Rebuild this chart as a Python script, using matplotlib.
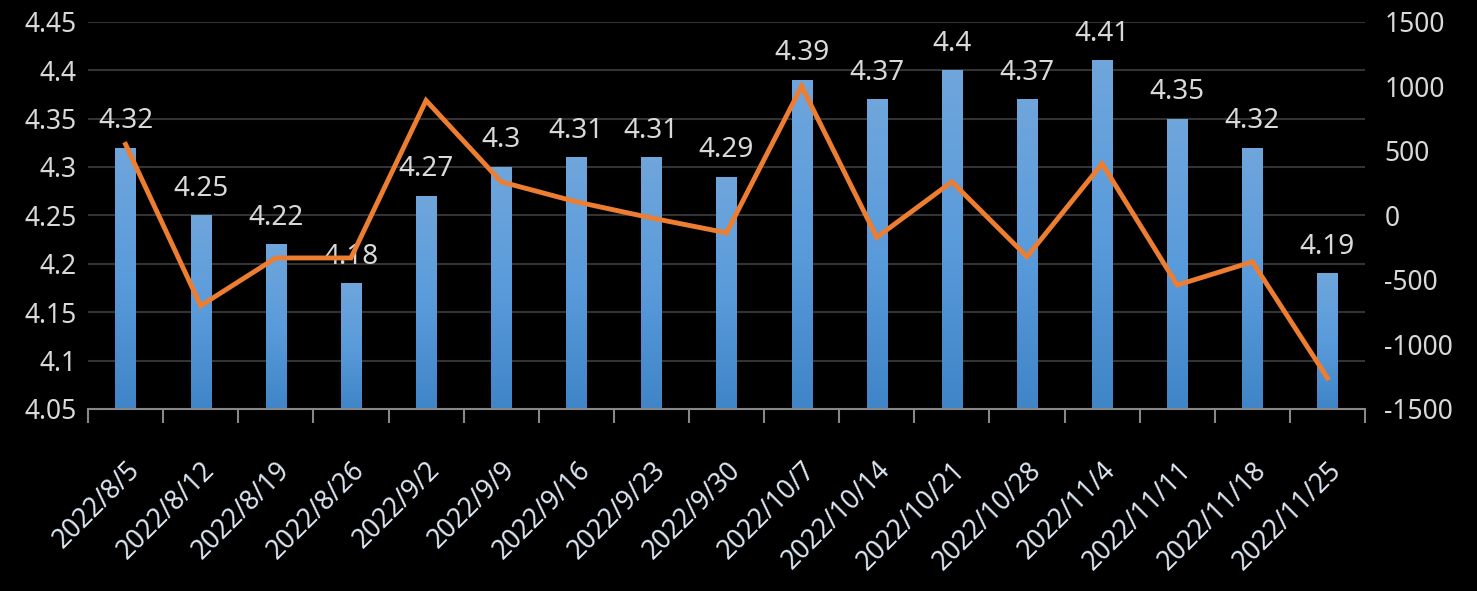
import matplotlib.pyplot as plt
import numpy as np
from matplotlib.colors import LinearSegmentedColormap

# données
dates = ["2022/8/5", "2022/8/12", "2022/8/19", "2022/8/26", "2022/9/2", "2022/9/9",
         "2022/9/16", "2022/9/23", "2022/9/30", "2022/10/7", "2022/10/14", "2022/10/21",
         "2022/10/28", "2022/11/4", "2022/11/11", "2022/11/18", "2022/11/25"]
bar_values = [4.32, 4.25, 4.22, 4.18, 4.27, 4.30, 4.31, 4.31, 4.29, 4.39, 4.37, 4.40,
              4.37, 4.41, 4.35, 4.32, 4.19]
bar_labels = ["4.32", "4.25", "4.22", "4.18", "4.27", "4.3", "4.31", "4.31", "4.29", "4.39",
              "4.37", "4.4", "4.37", "4.41", "4.35", "4.32", "4.19"]
line_values = [550, -700, -330, -330, 890, 260, 105, -20, -135, 1000, -170, 260,
               -320, 400, -540, -360, -1260]
left_ticks = [4.05, 4.1, 4.15, 4.2, 4.25, 4.3, 4.35, 4.4, 4.45]
left_tick_labels = ["4.05", "4.1", "4.15", "4.2", "4.25", "4.3", "4.35", "4.4", "4.45"]
right_ticks = [-1500, -1000, -500, 0, 500, 1000, 1500]

plt.rcParams['font.family'] = ['Noto Sans', 'DejaVu Sans']
plt.rcParams['axes.unicode_minus'] = False
text_color = "#D9D9D9"

fig = plt.figure(figsize=(14.77, 5.91), dpi=100, facecolor="black")
ax = fig.add_axes([0.0596, 0.308, 0.8646, 0.6552])
ax.set_facecolor("black")
x = np.arange(len(dates))

# barres avec dégradé (clair en haut, foncé en bas)
bars = ax.bar(x, bar_values, width=0.27, bottom=0, color="none", zorder=2)
grad = np.linspace(0, 1, 256).reshape(-1, 1)
cmap = LinearSegmentedColormap.from_list("blu", ["#3F85C7", "#5A9BDB", "#6FA6DB"])
for b in bars:
    x0 = b.get_x()
    w = b.get_width()
    im = ax.imshow(grad, extent=(x0, x0 + w, 4.05, b.get_height()), aspect="auto",
                   cmap=cmap, zorder=2, origin="lower")
    im.set_clip_path(b)
ax.set_xlim(-0.5, len(dates) - 0.5)
ax.set_ylim(4.05, 4.45)

for xi, v, lab in zip(x, bar_values, bar_labels):
    ax.annotate(lab, (xi, v), xytext=(0, 9), textcoords="offset points",
                ha="center", va="bottom", fontsize=20, color=text_color, zorder=5)

ax.set_yticks(left_ticks)
ax.set_yticklabels(left_tick_labels)
ax.yaxis.grid(True, color="#333333", linewidth=1.5)
ax.set_axisbelow(True)
ax.tick_params(axis="y", length=0, labelsize=19, labelcolor=text_color, pad=8)

ax.set_xticks(x)
ax.set_xticklabels(dates, rotation=45, ha="right", rotation_mode="anchor")
ax.set_xticks(np.arange(-0.5, len(dates)), minor=True)
ax.tick_params(axis="x", which="major", length=0, labelsize=19, labelcolor="#DCE6F2", pad=34)
ax.tick_params(axis="x", which="minor", length=10, width=1.5, color="#888888", direction="out")

for s in ["top", "right", "left"]:
    ax.spines[s].set_visible(False)
ax.spines["bottom"].set_color("#888888")
ax.spines["bottom"].set_linewidth(1.5)

# courbe sur l'axe de droite
ax2 = ax.twinx()
ax2.plot(x, line_values, color="#ED7D31", linewidth=3.5, zorder=4, solid_joinstyle="miter")
ax2.set_ylim(-1500, 1500)
ax2.set_yticks(right_ticks)
ax2.tick_params(axis="y", length=0, labelsize=19, labelcolor=text_color, pad=14)
for s in ax2.spines.values():
    s.set_visible(False)

plt.savefig("out.png", dpi=100, facecolor="black")
